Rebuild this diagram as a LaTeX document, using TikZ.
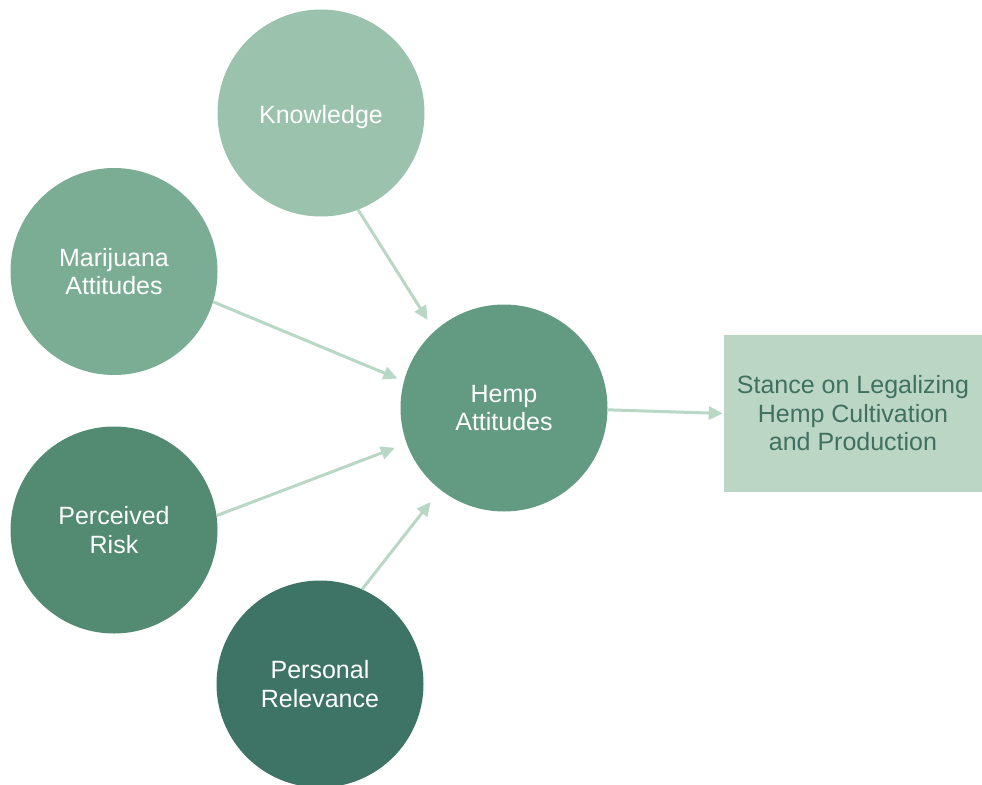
\documentclass[tikz,border=0pt]{standalone}
\usepackage{fontspec}
\setmainfont{Liberation Sans}
\usetikzlibrary{arrows.meta}
\definecolor{cKnow}{HTML}{9AC2AC}
\definecolor{cMari}{HTML}{7BAD95}
\definecolor{cHemp}{HTML}{639A82}
\definecolor{cRisk}{HTML}{528A72}
\definecolor{cPers}{HTML}{3E7465}
\definecolor{cRect}{HTML}{BCD6C5}
\definecolor{cArr}{HTML}{B9D7C5}
\definecolor{cRtxt}{HTML}{40705F}
\tikzset{
  bubble/.style={circle, minimum size=207pt, inner sep=0pt, text=white, align=center,
    font=\fontsize{25}{28.5}\selectfont},
  outbox/.style={rectangle, minimum width=258pt, minimum height=157pt, inner sep=0pt,
    fill=cRect, text=cRtxt, align=center, font=\fontsize{25}{28.5}\selectfont},
  conn/.style={draw=cArr, line width=3pt, -{Triangle[length=14pt,width=13pt]}}
}
\begin{document}
\begin{tikzpicture}[x=1pt,y=-1pt]
\useasboundingbox (0,0) rectangle (982,784);
\node[bubble, fill=cKnow] (k) at (321,113) {\raisebox{-4pt}[\height][\depth]{Knowledge}};
\node[bubble, fill=cMari] (m) at (114,271.5) {Marijuana\\Attitudes};
\node[bubble, fill=cHemp] (h) at (504,408) {Hemp\\Attitudes};
\node[bubble, fill=cRisk] (r) at (114,530) {Perceived\\Risk};
\node[bubble, fill=cPers] (p) at (320,684) {Personal\\Relevance};
\node[outbox] (s) at (853,413.5) {Stance on Legalizing\\Hemp Cultivation\\and Production};
\draw[conn, shorten >=13pt] (k.-69) -- (h.132.6);
\draw[conn, shorten >=7pt] (m.-17) -- (h.165.3);
\draw[conn, shorten >=12.5pt] (r.8.3) -- (h.200.2);
\draw[conn, shorten >=15.5pt] (p.66.4) -- (h.232.8);
\draw[conn, shorten >=1pt] (h.-1.7) -- (s.west);
\end{tikzpicture}
\end{document}
